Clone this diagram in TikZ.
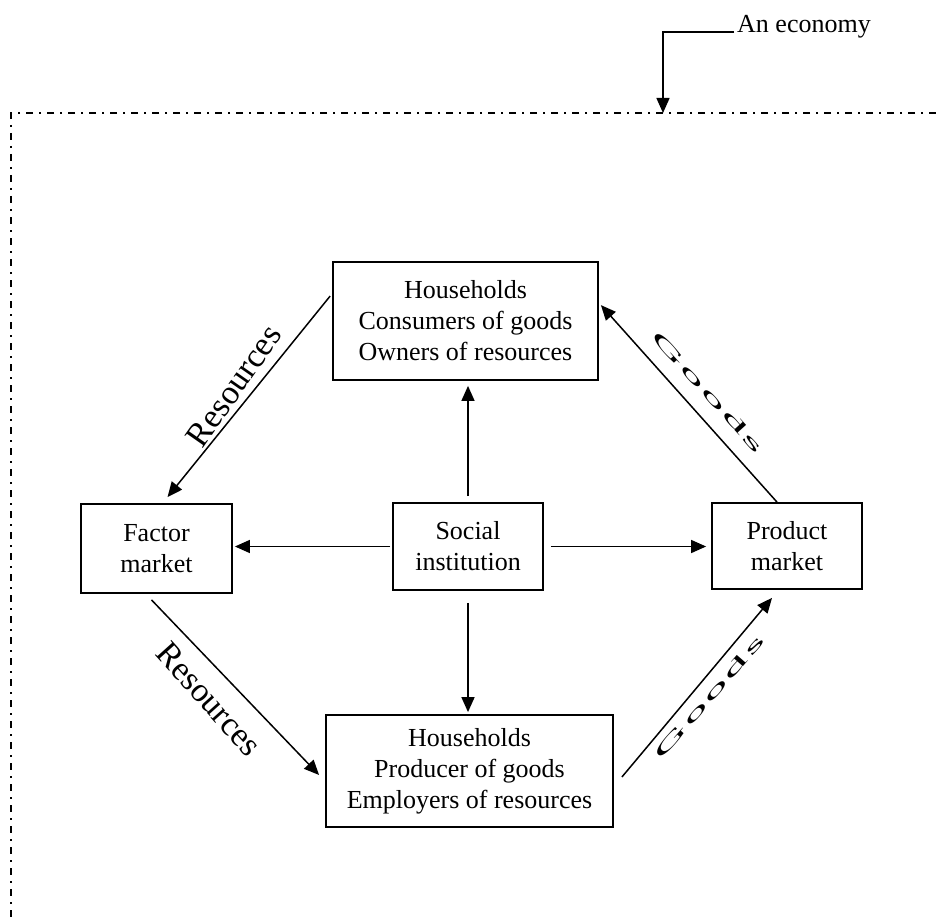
\documentclass[tikz,border=0pt]{standalone}
\usepackage{fontspec}
\setmainfont{Liberation Serif}
\usetikzlibrary{arrows.meta,calc}
\begin{document}
\begin{tikzpicture}[x=1pt,y=-1pt,
  box/.style={draw, line width=1.8pt, align=center, inner sep=0pt, font=\fontsize{26}{31}\selectfont},
  arr/.style={line width=1.5pt, -{Triangle[length=15pt,width=13pt]}},
  reslabel/.style={font=\fontsize{34}{34}\selectfont, inner sep=0pt},
  goodslabel/.style={font=\fontsize{28}{28}\selectfont, inner sep=0pt, xscale=2.0, yscale=0.62},
  econlabel/.style={font=\fontsize{26}{26}\selectfont, inner sep=0pt},
  border/.style={line width=2.2pt, dash pattern=on 7pt off 6pt on 2pt off 6pt}]
\useasboundingbox (0,0) rectangle (936,920);

% economy border
\draw[border] (936,113) -- (11,113) -- (11,920);

% label of the economy
\node[econlabel, anchor=base west] (econ) at (737,33) {An economy};
\coordinate (econtip) at (663,113);
\draw[arr] ($(econ.base west)+(-3,-1)$) -| (econtip);

% boxes
\node[box, minimum width=265pt, minimum height=118pt] (ht) at (465.5,321) {Households\\Consumers of goods\\Owners of resources};
\node[box, minimum width=151pt, minimum height=89pt] (fm) at (156.5,548.5) {Factor\\market};
\node[box, minimum width=150pt, minimum height=87pt] (si) at (468,546.5) {Social\\institution};
\node[box, minimum width=150pt, minimum height=86pt] (pm) at (787,546) {Product\\market};
\node[box, minimum width=287pt, minimum height=112pt] (hb) at (469.5,771) {Households\\Producer of goods\\Employers of resources};

% arrows from social institution
\draw[arr, shorten <=6pt, shorten >=5pt] (si.north) -- (si.north |- ht.south);
\draw[arr, shorten <=12pt, shorten >=2pt] (si.south) -- (si.south |- hb.north);
\draw[arr, shorten <=2pt, shorten >=2pt] (si.west) -- (si.west -| fm.east);
\draw[arr, shorten <=7pt, shorten >=5pt] (si.east) -- (si.east -| pm.west);

% circular flow
\draw[arr] ($(ht.north west)+(-2,35)$) -- ($(fm.north)+(11,-6)$);
\draw[arr] ($(fm.south)+(-5,6)$) -- ($(hb.west)+(-6,4)$);
\draw[arr] ($(hb.east)+(8,6)$) -- ($(pm.south)+(-15,8)$);
\draw[arr] ($(pm.north)+(-10,0)$) -- ($(ht.north east)+(2,44)$);

% flow labels
\node[reslabel, rotate=55] (r1) at (234,386) {Resources};
\node[reslabel, rotate=-48] (r2) at (209,699) {Resources};
\node[rotate=-48, goodslabel] (g1) at (708,392) {G\hspace{1.5pt}o\hspace{1.5pt}o\hspace{1.5pt}d\hspace{1.5pt}s};
\node[rotate=49, goodslabel] (g2) at (709,697) {G\hspace{1.5pt}o\hspace{1.5pt}o\hspace{1.5pt}d\hspace{1.5pt}s};
\end{tikzpicture}
\end{document}
